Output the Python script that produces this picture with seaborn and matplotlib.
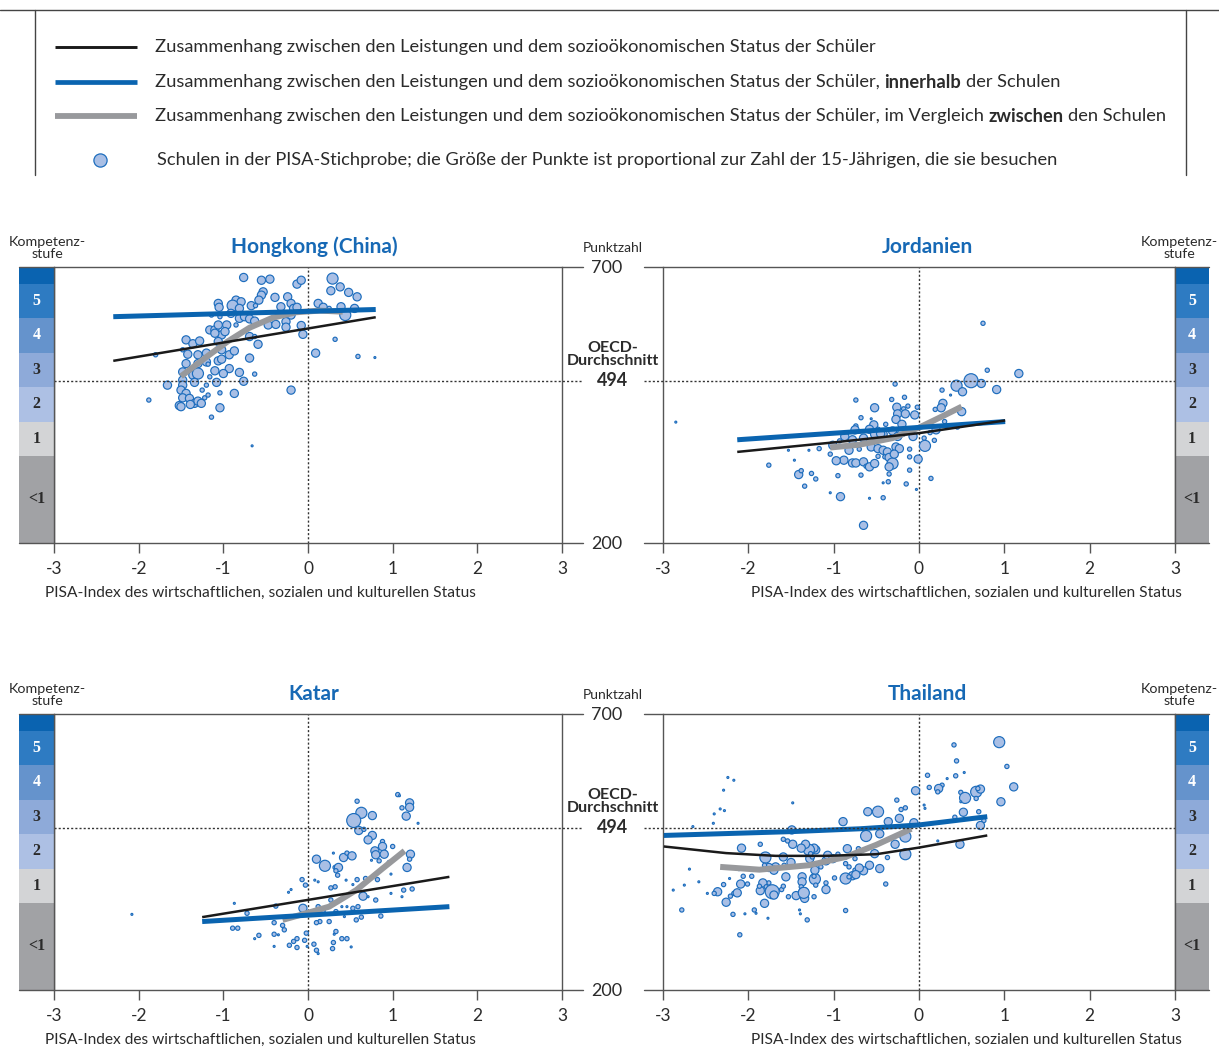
import matplotlib
matplotlib.use("Agg")
import matplotlib.pyplot as plt
import seaborn as sns
from matplotlib.lines import Line2D

# ---------------- data ----------------
x_ticks = [-3, -2, -1, 0, 1, 2, 3]
x_tick_labels = ["-3", "-2", "-1", "0", "1", "2", "3"]
level_bounds = [200, 358, 420, 482, 545, 607, 669, 700]
level_labels = ["<1", "1", "2", "3", "4", "5", ""]
level_colors = ["#a1a2a5", "#d3d4d6", "#adc0e4", "#8eaad9", "#6593cc", "#2e7bc2", "#0a63b0"]
level_text_colors = ["#2a2a2a", "#2a2a2a", "#2a2a2a", "#2a2a2a", "white", "white", "white"]
oecd_mean = 494
countries = ["Hongkong (China)", "Jordanien", "Katar", "Thailand"]

# school size codes -> number of 15-year-olds (approx.)
T, S, M, L, XL = 5, 32, 125, 230, 370

# Hongkong (China)
hk_esc = [-0.76, -0.55, -0.45, 0.29, -0.13, -0.08, 0.27, 0.38, 0.48, 0.58, -0.39, -0.24, -0.53, -0.55, -0.58,
          -0.85, -0.79, -1.06, -1.05, -0.89, -0.81, -0.67, -0.62, -0.32, -0.20, -0.17, -0.13, 0.12, 0.18, 0.39,
          0.44, -1.14, -1.04, -0.91, -0.81, -0.75, -0.69, -0.63, -0.47, -0.38, -0.26, -0.26, -0.08, -0.06, -0.20,
          -1.16, -1.10, -1.06, -0.96, -0.85, -1.02, -0.98, -1.10, -0.69, -0.63, -0.59, -1.44, -1.36, -1.28, -1.06,
          -1.48, -1.42, -1.30, -1.20, -1.02, -0.93, -0.87, -0.69, -0.69, -1.44, -1.30, -1.20, -1.18, -1.06, -1.02,
          -0.93, -0.81, -0.63, -1.48, -1.36, -1.30, -1.16, -1.10, -1.00, -1.20, -1.08, -1.34, -1.48, -1.48, -1.66,
          -1.50, -1.44, -1.25, -1.48, -1.40, -1.34, -1.30, -1.26, -1.22, -1.18, -1.04, -0.87, -0.76, -1.04, -1.14,
          -1.52, -1.50, -1.39, -0.20, 0.09, 0.32, 0.59, 0.79, -1.88, -1.80, -0.66, 0.55, 0.25]
hk_score = [681, 676, 678, 679, 669, 676, 657, 664, 654, 646, 645, 646, 655, 649, 640,
            640, 637, 634, 627, 630, 625, 630, 630, 628, 634, 625, 627, 634, 627, 628,
            613, 613, 610, 616, 607, 610, 606, 602, 595, 596, 601, 591, 594, 578, 613,
            586, 586, 595, 595, 595, 577, 583, 580, 574, 574, 560, 568, 561, 566, 565,
            550, 542, 541, 544, 550, 541, 548, 538, 535, 525, 525, 528, 524, 530, 533,
            516, 509, 506, 510, 504, 507, 501, 512, 507, 486, 491, 491, 495, 486, 486,
            477, 471, 477, 463, 462, 453, 457, 453, 463, 468, 472, 471, 493, 445, 428,
            449, 447, 451, 477, 544, 569, 538, 536, 459, 541, 376, 625, 625]
hk_students = [M, M, M, L, M, M, M, M, M, M, M, M, M, M, M,
               M, M, M, M, L, M, M, S, M, M, M, M, M, M, M,
               L, S, S, M, M, M, M, M, M, M, M, M, M, M, M,
               M, M, M, M, S, M, M, M, M, S, M, M, M, M, M,
               S, M, M, M, M, M, M, S, M, M, M, M, S, M, M,
               M, M, S, M, M, L, S, M, M, S, M, M, M, M, M,
               M, M, S, M, M, M, M, M, S, S, S, M, M, M, S,
               M, M, M, M, M, S, S, T, S, S, T, M, S]
hk_total_x = [-2.30, 0.80]
hk_total_y = [530, 609]
hk_within_x = [-2.30, 0.80]
hk_within_y = [610, 623]
hk_between_x = [-1.50, -1.20, -0.95, -0.69, -0.42, -0.14, 0.14, 0.41]
hk_between_y = [502, 537, 565, 590, 608, 618, 621, 619]

# Jordanien
jo_esc = [0.75, 0.80, 1.17, 0.61, 0.44, 0.73, 0.51, 0.91, 0.27, 0.37, 0.28, 0.26, 0.19, 0.50, -0.28,
          -0.32, -0.17, -0.74, -0.52, -0.26, -0.18, -0.13, -0.02, -0.25, -0.16, -0.05, -0.68, -0.56, -0.27, -0.20,
          -0.39, -0.53, -0.58, -0.48, -0.31, -0.74, -0.87, -0.78, -0.65, -0.52, -0.42, -0.25, -0.07, -0.93, -1.01,
          -0.82, -0.70, -0.56, -0.48, -0.42, -0.37, -0.27, -0.23, -0.11, 0.07, 0.06, 0.13, -1.04, -0.88, -0.97,
          -0.78, -0.74, -0.65, -0.62, -0.58, -0.52, -0.48, -0.40, -0.35, -0.31, -0.35, -0.29, -0.11, -0.01, -0.11,
          -0.35, -0.36, -0.42, -0.68, -0.95, -1.26, -1.41, -1.38, -1.21, -1.34, -1.04, -0.92, -0.58, -0.42, -0.15,
          -0.03, 0.14, -0.65, -1.76, -1.53, -1.46, -1.29, -1.17, -2.85, -0.75, -0.45, -0.20, 0.20, 0.45, 0.18, 0.30]
jo_score = [598, 513, 507, 494, 485, 489, 474, 478, 477, 468, 453, 445, 442, 438, 488,
            460, 464, 459, 445, 446, 443, 448, 446, 434, 434, 432, 427, 425, 424, 415,
            415, 414, 406, 406, 403, 412, 393, 387, 390, 397, 397, 393, 393, 385, 377,
            368, 370, 374, 371, 368, 365, 374, 371, 370, 376, 390, 400, 361, 350, 349,
            345, 345, 347, 339, 338, 344, 357, 356, 355, 344, 338, 361, 356, 352, 332,
            325, 311, 309, 323, 322, 326, 324, 331, 316, 303, 291, 284, 281, 282, 307,
            297, 317, 232, 341, 368, 350, 368, 371, 419, 405, 398, 400, 405, 410, 386, 420]
jo_students = [S, S, M, XL, L, M, M, M, S, T, M, M, S, M, S,
               S, S, S, M, M, S, S, S, M, M, M, S, T, M, M,
               S, M, M, S, M, S, M, M, M, M, M, M, M, S, M,
               M, S, M, M, M, M, M, M, S, L, S, S, S, M, M,
               M, M, M, S, M, M, S, S, M, L, M, M, S, M, S,
               S, S, T, S, S, S, M, S, S, S, T, M, T, S, S,
               T, S, M, S, T, T, T, S, T, M, M, M, M, S, S, S]
jo_total_x = [-2.13, -0.95, 0.0, 1.01]
jo_total_y = [365, 383, 399, 422]
jo_within_x = [-2.13, 1.01]
jo_within_y = [387, 420]
jo_between_x = [-1.04, -0.70, -0.31, 0.0, 0.28, 0.50]
jo_between_y = [373, 378, 390, 409, 430, 447]

# Katar
qa_esc = [1.06, 1.08, 1.20, 1.20, 1.11, 1.16, 1.30, 0.58, 0.63, 0.54, 0.76, 0.60, 0.66, 0.76, 0.71,
          0.88, 0.88, 0.79, 0.80, 0.90, 1.00, 1.21, 1.20, 1.17, 0.75, 0.84, 0.10, 0.20, 0.30, 0.42,
          0.46, 0.52, 0.32, 0.36, 0.33, 0.35, -0.07, -0.03, 0.08, 0.12, 0.45, 0.58, 0.68, 0.82, 0.96,
          0.98, 0.32, 0.27, 0.53, 0.65, 0.71, 0.80, 1.11, 1.23, 1.13, -0.06, -0.38, -0.23, -0.20, -0.72,
          -0.87, -0.89, -0.83, -0.58, -0.63, -0.40, -0.30, -0.28, -0.40, -0.35, -0.40, -0.22, -0.17, -0.13, -0.13,
          -0.04, -0.02, -0.01, 0.07, 0.10, 0.12, 0.29, 0.30, 0.31, 0.33, 0.40, 0.46, 0.51, 0.25, 0.14,
          0.10, 0.43, 0.57, 0.63, 0.86, 0.53, 0.59, 0.46, 0.40, 0.33, 0.18, 0.12, 0.27, 0.98, -2.08]
qa_score = [554, 552, 539, 531, 530, 515, 502, 542, 521, 507, 516, 489, 491, 480, 472,
            469, 460, 452, 445, 446, 460, 446, 437, 422, 435, 434, 437, 425, 448, 440,
            448, 443, 422, 422, 416, 408, 400, 390, 399, 396, 399, 400, 402, 400, 431,
            410, 387, 385, 391, 370, 369, 363, 369, 383, 381, 348, 352, 377, 382, 339,
            357, 312, 312, 299, 293, 322, 317, 309, 301, 300, 279, 281, 288, 293, 277,
            290, 303, 279, 283, 272, 266, 275, 286, 301, 306, 293, 293, 278, 324, 324,
            322, 333, 327, 332, 334, 348, 351, 351, 351, 342, 344, 351, 363, 375, 337]
qa_students = [S, T, M, M, S, M, T, S, L, XL, M, M, S, M, M,
               S, M, M, M, M, S, M, S, M, T, S, M, L, T, M,
               S, M, S, M, S, S, S, S, T, T, T, S, S, S, S,
               T, S, S, T, M, T, S, T, S, S, M, S, T, T, S,
               T, S, S, S, T, S, S, S, S, T, T, S, S, S, S,
               S, S, T, S, S, T, S, S, T, S, S, S, T, S, S,
               S, T, S, S, S, S, S, T, T, S, S, S, S, T, T]
qa_total_x = [-1.25, 1.67]
qa_total_y = [332, 405]
qa_within_x = [-1.25, 1.67]
qa_within_y = [324, 351]
qa_between_x = [-0.30, -0.02, 0.25, 0.57, 0.88, 1.14]
qa_between_y = [327, 339, 351, 381, 420, 452]

# Thailand
th_esc = [0.94, 0.41, 0.44, 1.03, 1.11, 0.96, 0.53, 0.43, 0.33, 0.10, 0.12, 0.27, 0.23, 0.22, 0.49,
          0.54, 0.67, 0.72, 0.69, 0.67, 0.49, 0.52, 0.42, 0.70, 0.76, 0.72, 0.48, 0.22, 0.06, 0.07,
          -0.04, -0.16, -0.21, -0.26, -0.23, -0.06, -0.36, -0.60, -0.48, -0.89, -0.62, -0.46, -0.16, -0.28, -0.16,
          -0.37, -0.52, -0.58, -0.46, -0.65, -0.75, -0.78, -0.86, -0.84, -0.71, -0.86, -0.82, -0.99, -1.09, -1.09,
          -1.22, -1.22, -1.23, -1.15, -1.09, -1.07, -1.01, -1.21, -1.23, -1.29, -1.33, -1.28, -1.25, -1.38, -1.48,
          -1.59, -1.54, -1.49, -1.86, -2.08, -1.80, -1.59, -1.27, -1.50, -1.68, -1.76, -1.81, -2.11, -2.06, -1.96,
          -1.70, -1.58, -1.56, -1.37, -1.37, -1.38, -1.21, -1.33, -1.76, -1.83, -1.79, -1.86, -1.72, -1.70, -1.61,
          -1.59, -1.87, -2.01, -2.09, -2.29, -2.22, -2.17, -2.13, -2.21, -2.26, -2.36, -2.40, -2.48, -1.81, -1.93,
          -1.91, -2.18, -2.04, -1.77, -1.53, -1.44, -1.36, -1.34, -1.35, -1.23, -0.86, -1.40, -1.39, -1.31, -2.10,
          -2.78, -2.88, -2.75, -2.69, -2.58, -2.24, -2.17, -2.29, -2.33, -2.28, -2.40, -2.41, -2.65, -1.48, -0.70,
          -0.75, -0.86, -0.95, -0.82, -0.39, -0.74]
th_score = [649, 644, 615, 605, 568, 541, 594, 588, 583, 589, 567, 571, 565, 559, 558,
            548, 559, 564, 565, 547, 541, 522, 513, 523, 507, 498, 464, 470, 535, 529,
            561, 530, 527, 544, 511, 503, 505, 523, 523, 505, 479, 483, 478, 464, 446,
            440, 447, 426, 420, 416, 417, 407, 402, 456, 456, 429, 423, 403, 394, 382,
            401, 417, 406, 423, 434, 444, 438, 454, 457, 454, 464, 438, 441, 457, 464,
            473, 470, 490, 464, 457, 440, 441, 447, 431, 423, 422, 426, 418, 406, 406,
            417, 426, 405, 405, 396, 387, 390, 381, 394, 394, 387, 380, 378, 372, 382,
            388, 388, 392, 392, 391, 402, 375, 376, 370, 359, 378, 375, 375, 357, 345,
            339, 337, 338, 330, 369, 371, 378, 366, 376, 369, 344, 345, 338, 327, 300,
            345, 381, 390, 419, 396, 585, 580, 562, 528, 525, 519, 502, 496, 539, 421,
            438, 441, 446, 405, 392, 409]
th_students = [L, S, S, S, M, M, T, S, T, S, S, S, M, S, S,
               L, L, M, S, S, T, M, S, S, S, M, M, T, T, T,
               M, S, S, S, M, M, M, M, L, M, L, M, L, M, L,
               S, M, M, M, M, S, M, L, M, S, S, S, S, S, M,
               L, M, S, S, M, M, M, M, M, L, M, M, S, M, M,
               S, S, M, S, M, L, M, S, M, M, M, S, T, S, S,
               M, S, M, M, M, S, S, S, S, M, S, M, XL, M, S,
               S, S, S, M, S, T, S, M, S, M, M, S, T, M, S,
               T, S, T, T, S, M, M, M, L, S, S, T, T, S, S,
               S, T, T, T, T, T, T, T, T, T, T, T, T, T, M,
               S, S, S, S, S, M]
th_total_x = [-2.99, -2.26, -1.68, -1.09, -0.50, 0.0, 0.80]
th_total_y = [460, 448, 443, 443, 446, 458, 480]
th_within_x = [-2.99, -1.48, -0.70, 0.0, 0.80]
th_within_y = [480, 487, 492, 499, 514]
th_between_x = [-2.33, -1.87, -1.29, -0.86, -0.50, -0.09]
th_between_y = [423, 418, 426, 441, 463, 492]

legend_texts = [
    [("Zusammenhang zwischen den Leistungen und dem sozioökonomischen Status der Schüler", False)],
    [("Zusammenhang zwischen den Leistungen und dem sozioökonomischen Status der Schüler,", False),
     ("innerhalb", True), ("der Schulen", False)],
    [("Zusammenhang zwischen den Leistungen und dem sozioökonomischen Status der Schüler, im Vergleich", False),
     ("zwischen", True), ("den Schulen", False)],
    [("Schulen in der PISA-Stichprobe; die Größe der Punkte ist proportional zur Zahl der 15-Jährigen, die sie besuchen", False)],
]

# ---------------- style ----------------
sns.set_theme(style="white")
plt.rcParams['font.family'] = ['Lato', 'DejaVu Sans']
plt.rcParams['axes.unicode_minus'] = False

W, H = 1219, 1050
fig = plt.figure(figsize=(W / 100, H / 100), dpi=100)

def fx(px):
    return px / W

def fy(py):
    return 1 - py / H

TXT = "#2b2b2b"
AXC = "#555555"
BLUE_LINE = "#0a64b0"
GRAY_LINE = "#98999c"
BLACK_LINE = "#1a1a1a"
FILL = "#a9bfe5"
EDGE = "#1d6dbd"
TITLE_BLUE = "#1769b5"

def fig_line(x0, x1, y0, y1, **kw):
    fig.add_artist(Line2D([fx(x0), fx(x1)], [fy(y0), fy(y1)], transform=fig.transFigure, **kw))

# ---------------- legend area ----------------
fig_line(0, W, 10, 10, color="#444", lw=1.0)
fig_line(35, 35, 10, 175, color="#444", lw=1.0)
fig_line(1186, 1186, 10, 175, color="#444", lw=1.0)
fig_line(55, 137, 47, 47, color=BLACK_LINE, lw=2.1, solid_capstyle="butt")
fig_line(55, 137, 82, 82, color=BLUE_LINE, lw=3.4, solid_capstyle="butt")
fig_line(55, 137, 116, 116, color=GRAY_LINE, lw=4.2, solid_capstyle="butt")
fig.add_artist(Line2D([fx(100)], [fy(160)], transform=fig.transFigure, marker="o", ms=9.5,
                      mfc=FILL, mec=EDGE, mew=0.9, ls="none"))

renderer = fig.canvas.get_renderer()
LEG_SIZE = 13.15
probe1 = fig.text(0, 0, "xx", fontsize=LEG_SIZE)
probe2 = fig.text(0, 0, "x x", fontsize=LEG_SIZE)
space_w = probe2.get_window_extent(renderer).width - probe1.get_window_extent(renderer).width
probe1.remove()
probe2.remove()
for row_y, start_x, parts in zip([47, 82, 116, 160], [155, 155, 155, 157], legend_texts):
    x = start_x
    for txt, bold in parts:
        t = fig.text(fx(x), fy(row_y), txt, fontsize=LEG_SIZE, color=TXT,
                     fontweight="bold" if bold else "normal", ha="left", va="center")
        bb = t.get_window_extent(renderer)
        x = bb.x1 + space_w

# ---------------- panels ----------------
panels = [
    (countries[0], 0, 0, hk_esc, hk_score, hk_students, hk_total_x, hk_total_y, hk_within_x, hk_within_y, hk_between_x, hk_between_y),
    (countries[1], 1, 0, jo_esc, jo_score, jo_students, jo_total_x, jo_total_y, jo_within_x, jo_within_y, jo_between_x, jo_between_y),
    (countries[2], 0, 1, qa_esc, qa_score, qa_students, qa_total_x, qa_total_y, qa_within_x, qa_within_y, qa_between_x, qa_between_y),
    (countries[3], 1, 1, th_esc, th_score, th_students, th_total_x, th_total_y, th_within_x, th_within_y, th_between_x, th_between_y),
]

col_axes = [(54, 562), (663, 1175)]
col_bar = [(19, 54), (1175, 1209)]
col_line_span = [(19, 583), (644, 1209)]
col_dot_span = [(54, 583), (644, 1175)]
row_top = [267, 714]
PH = 276

def yp(score, row):
    return row_top[row] + PH - (score - 200) * PH / 500.0

for name, col, row, xs, ys, ns, tx, ty, wx, wy, bx, by in panels:
    ax0, ax1 = col_axes[col]
    top = row_top[row]
    bot = top + PH
    ax = fig.add_axes([fx(ax0), fy(bot), (ax1 - ax0) / W, PH / H])
    ax.set_facecolor("white")
    sns.scatterplot(x=xs, y=ys, size=ns, sizes=(2, 110), size_norm=(5, 400), color=FILL,
                    edgecolor=EDGE, linewidth=0.85, legend=False, ax=ax, zorder=3)
    sns.lineplot(x=bx, y=by, sort=False, estimator=None, color=GRAY_LINE, lw=4.3, ax=ax,
                 zorder=5, solid_capstyle="butt")
    sns.lineplot(x=wx, y=wy, sort=False, estimator=None, color=BLUE_LINE, lw=3.6, ax=ax,
                 zorder=6, solid_capstyle="butt")
    sns.lineplot(x=tx, y=ty, sort=False, estimator=None, color=BLACK_LINE, lw=1.8, ax=ax,
                 zorder=7, solid_capstyle="butt")
    ax.axvline(0, color="#333", lw=1.0, ls=(0, (1.5, 1.5)), zorder=2)
    ax.set_xlim(-3, 3)
    ax.set_ylim(200, 700)
    ax.set_xlabel("")
    ax.set_ylabel("")
    ax.set_yticks([])
    ax.set_xticks(x_ticks)
    ax.set_xticklabels(x_tick_labels)
    ax.tick_params(axis="x", bottom=True, direction="out", length=7.5, width=1.0, color=AXC,
                   pad=5.5, labelsize=12.5, labelcolor=TXT)
    for side in ["top", "bottom"]:
        ax.spines[side].set_visible(False)
    for side in ["left", "right"]:
        ax.spines[side].set_visible(True)
        ax.spines[side].set_color(AXC)
        ax.spines[side].set_linewidth(1.0)

    # horizontal frame lines extended into the gutter and over the level bar
    l0, l1 = col_line_span[col]
    fig_line(l0, l1, top, top, color=AXC, lw=1.0)
    fig_line(l0, l1, bot, bot, color=AXC, lw=1.0)
    d0, d1 = col_dot_span[col]
    ym = yp(oecd_mean, row)
    fig_line(d0, d1, ym, ym, color="#333", lw=1.0, ls=(0, (1.5, 1.5)))

    # proficiency level bar
    b0, b1 = col_bar[col]
    axb = fig.add_axes([fx(b0), fy(bot), (b1 - b0) / W, PH / H])
    lows = level_bounds[:-1]
    heights = [level_bounds[i + 1] - level_bounds[i] for i in range(len(lows))]
    axb.bar([0] * len(lows), heights, bottom=lows, width=1.0, color=level_colors, edgecolor="none")
    for lo, h, lab, tc in zip(lows, heights, level_labels, level_text_colors):
        axb.text(0, lo + h / 2, lab, ha="center", va="center", color=tc, fontsize=11.5,
                 fontweight="bold", family=["Liberation Serif", "DejaVu Serif"])
    axb.set_xlim(-0.5, 0.5)
    axb.set_ylim(200, 700)
    axb.axis("off")
    if col == 0:
        fig_line(b1, b1, top, bot, color=AXC, lw=1.0)
    else:
        fig_line(b0, b0, top, bot, color=AXC, lw=1.0)

    # texts
    title_x = 314 if col == 0 else 927
    fig.text(fx(title_x), fy(top - 20), name, ha="center", va="center", fontsize=15,
             fontweight="bold", color=TITLE_BLUE)
    kx = 47 if col == 0 else 1179
    fig.text(fx(kx), fy(top - 19), "Kompetenz-\nstufe", ha="center", va="center", fontsize=10.3,
             color=TXT, linespacing=1.05)
    if col == 0:
        fig.text(fx(45), fy(bot + 50), "PISA-Index des wirtschaftlichen, sozialen und kulturellen Status",
                 ha="left", va="center", fontsize=11.2, color=TXT)
    else:
        fig.text(fx(1182), fy(bot + 50), "PISA-Index des wirtschaftlichen, sozialen und kulturellen Status",
                 ha="right", va="center", fontsize=11.2, color=TXT)
        fig.text(fx(613), fy(top - 19), "Punktzahl", ha="center", va="center", fontsize=10, color=TXT)
        fig.text(fx(607), fy(top + 1), "700", ha="center", va="center", fontsize=13, color=TXT)
        fig.text(fx(607), fy(bot + 1), "200", ha="center", va="center", fontsize=13, color=TXT)
        fig.text(fx(613), fy(ym - 26), "OECD-\nDurchschnitt", ha="center", va="center", fontsize=11.5,
                 fontweight="bold", color=TXT, linespacing=0.9)
        fig.text(fx(613), fy(ym), "494", ha="center", va="center", fontsize=13,
                 fontweight="bold", color=TXT)

fig.savefig("out.png", dpi=100, facecolor="white")
